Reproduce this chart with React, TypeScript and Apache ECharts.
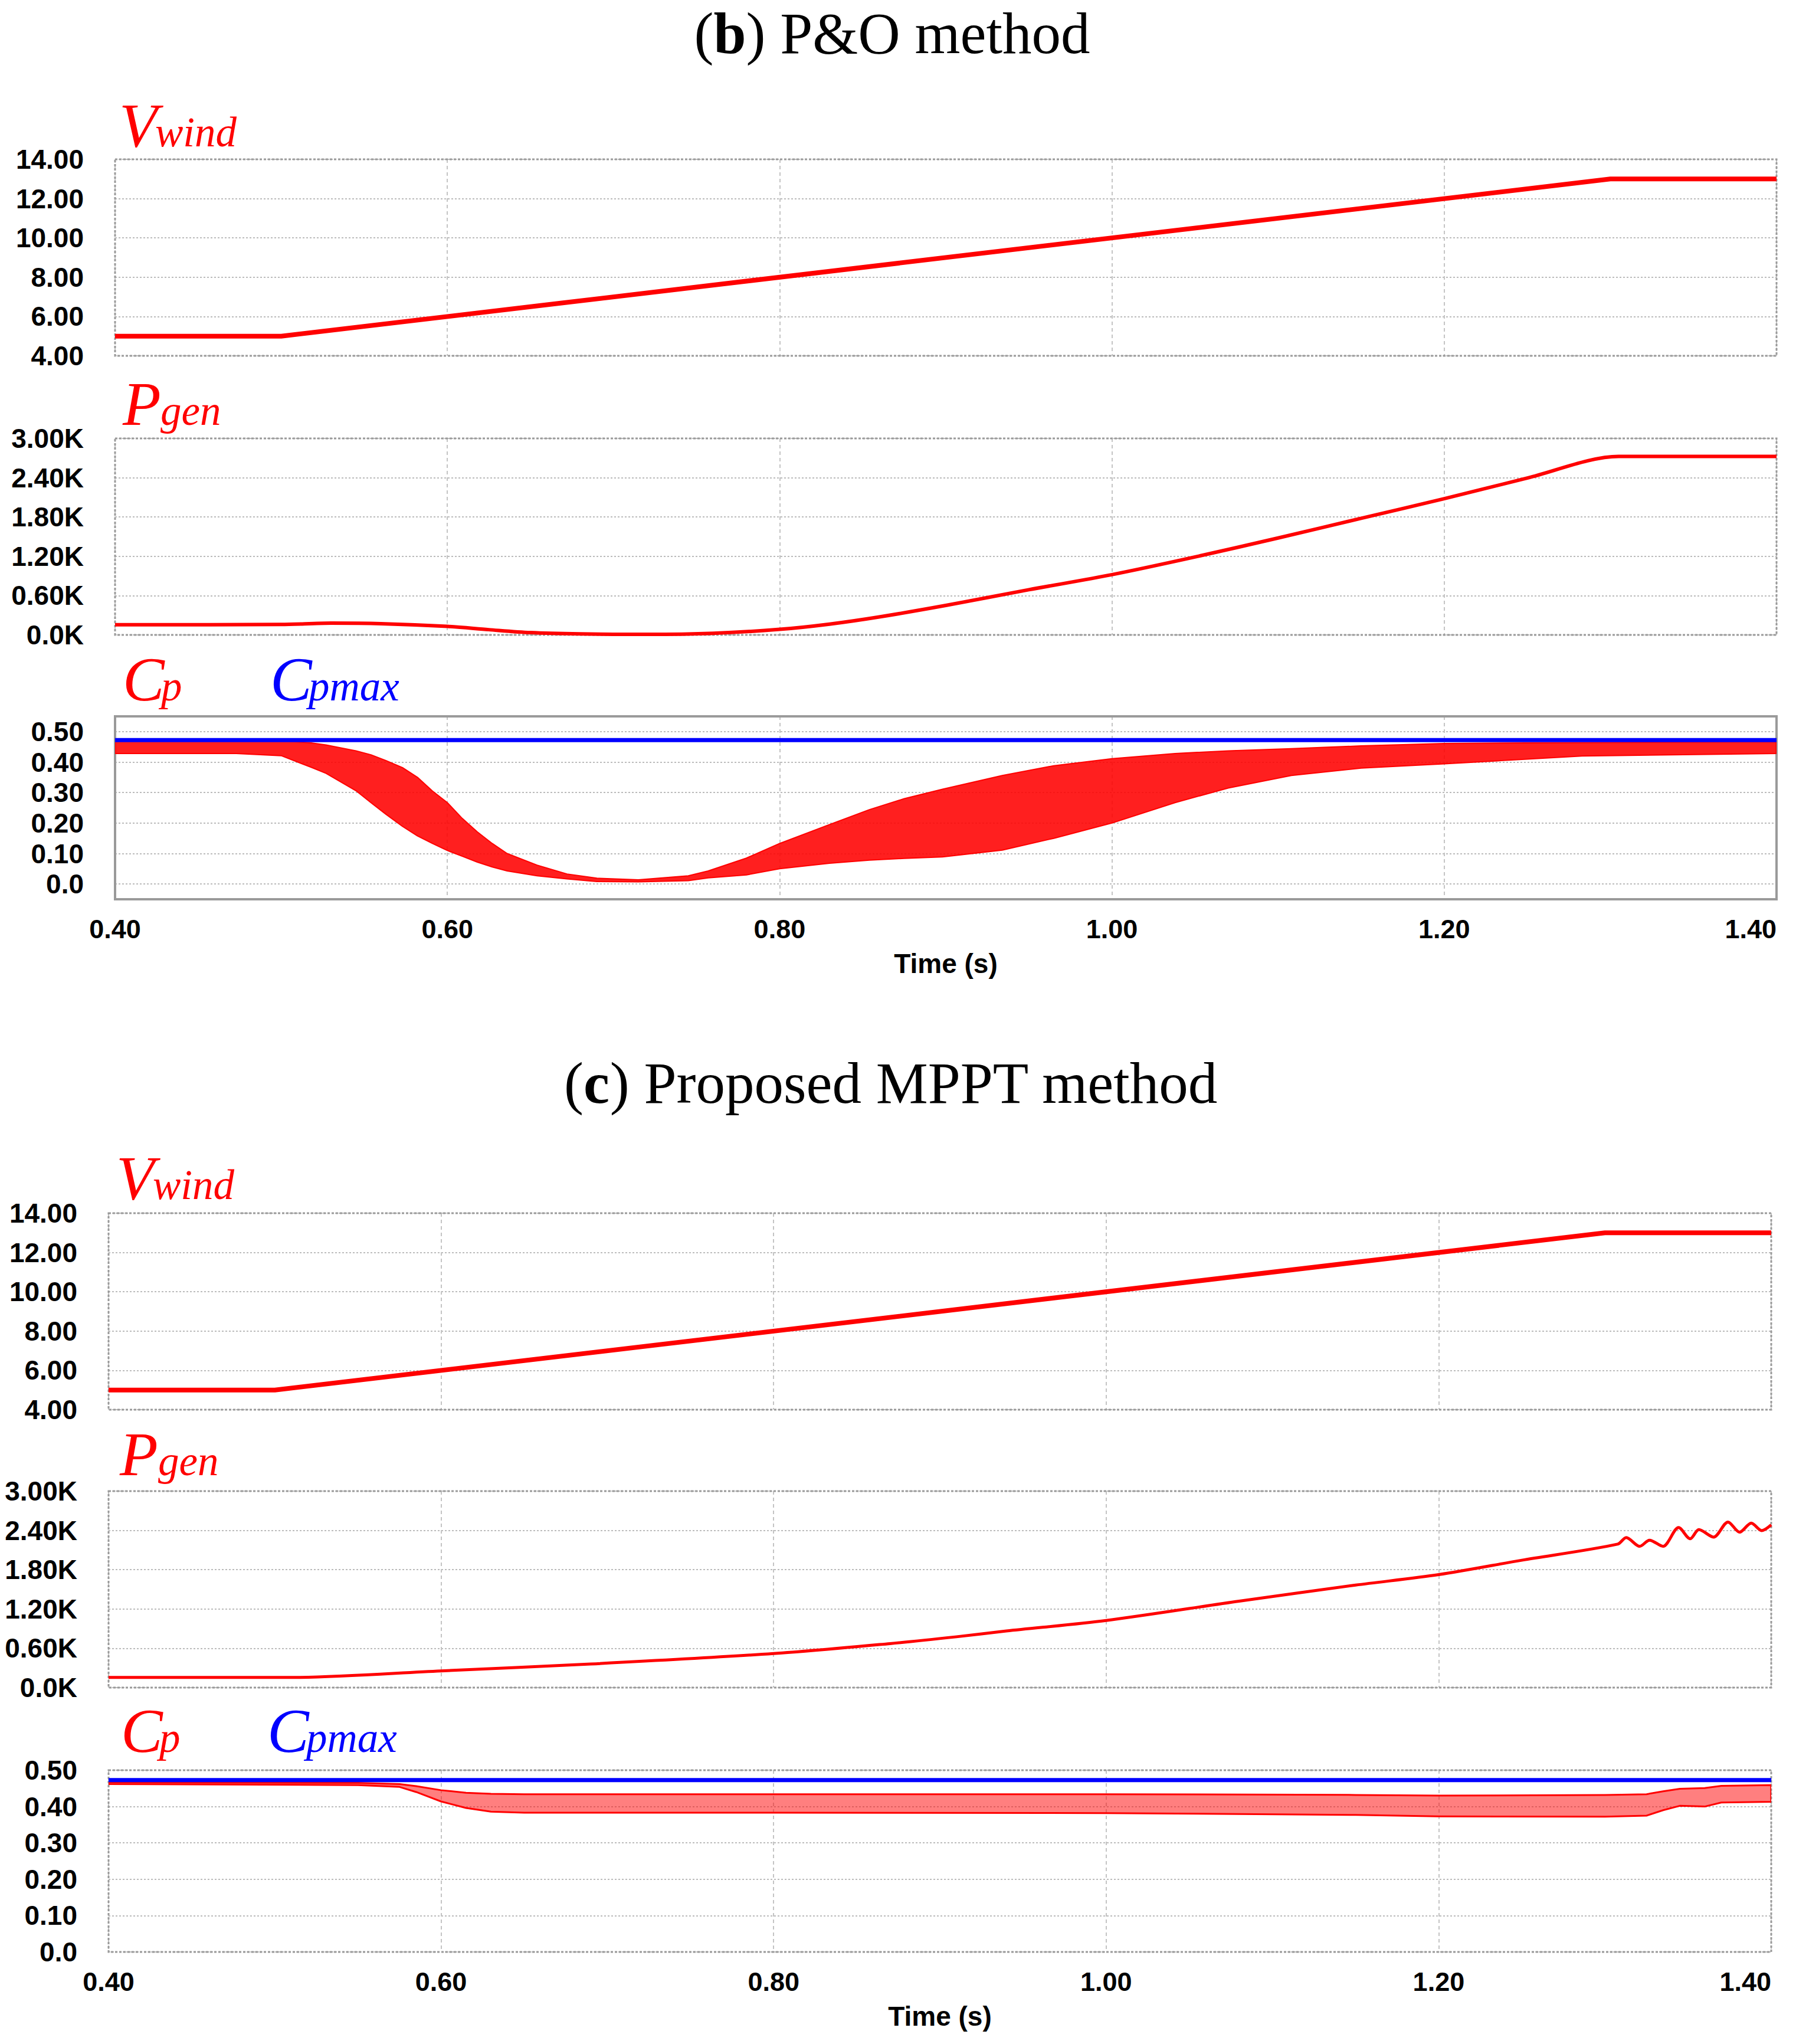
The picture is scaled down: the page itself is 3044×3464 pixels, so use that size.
import React, { useEffect, useRef } from "react";
import * as echarts from "echarts";

// ---------------- data ----------------
const T_VWIND = [0.4, 0.5, 1.3, 1.4];
const VWIND_B = [5, 5, 13, 13];
const VWIND_C = [5, 5, 13, 13];

const T_PGEN_B = [0.4, 0.5, 0.53, 0.56, 0.6, 0.625, 0.65, 0.68, 0.72, 0.76, 0.8, 0.83, 0.86, 0.9, 0.95, 1.0, 1.05, 1.1, 1.15, 1.2, 1.25, 1.305, 1.4];
const PGEN_B = [155, 160, 180, 172, 130, 80, 35, 15, 8, 25, 85, 165, 275, 450, 690, 920, 1190, 1480, 1780, 2080, 2395, 2725, 2725];

const T_PGEN_C = [0.4, 0.51, 0.6, 0.69, 0.8, 0.87, 0.91, 0.94, 1.0, 1.08, 1.15, 1.2, 1.25, 1.3076, 1.3128, 1.3209, 1.3268, 1.3349, 1.3443, 1.3513, 1.3565, 1.3653, 1.374, 1.381, 1.388, 1.3943, 1.4];
const PGEN_C = [155, 155, 255, 360, 520, 672, 776, 864, 1025, 1320, 1565, 1725, 1945, 2190, 2291, 2157, 2250, 2157, 2443, 2272, 2412, 2298, 2528, 2373, 2512, 2397, 2485];

// Cp of the P&O method: envelope of the fast oscillation (upper / lower)
const T_CP_B = [0.4, 0.473, 0.5, 0.518, 0.527, 0.545, 0.554, 0.563, 0.573, 0.582, 0.591, 0.6, 0.609, 0.618, 0.627, 0.636, 0.654, 0.672, 0.69, 0.715, 0.745, 0.757, 0.78, 0.8, 0.83, 0.854, 0.875, 0.898, 0.934, 0.965, 1.0, 1.038, 1.07, 1.108, 1.15, 1.2, 1.283, 1.4];
const CP_B_UP = [0.47, 0.47, 0.47, 0.463, 0.456, 0.437, 0.424, 0.405, 0.382, 0.35, 0.305, 0.267, 0.215, 0.171, 0.133, 0.1, 0.062, 0.033, 0.019, 0.014, 0.027, 0.043, 0.085, 0.133, 0.195, 0.244, 0.28, 0.311, 0.356, 0.388, 0.411, 0.428, 0.437, 0.444, 0.453, 0.461, 0.464, 0.467];
const CP_B_LO = [0.428, 0.428, 0.421, 0.383, 0.363, 0.306, 0.267, 0.229, 0.189, 0.158, 0.133, 0.11, 0.091, 0.072, 0.056, 0.043, 0.027, 0.017, 0.008, 0.007, 0.011, 0.02, 0.03, 0.05, 0.068, 0.078, 0.084, 0.089, 0.111, 0.15, 0.2, 0.267, 0.315, 0.356, 0.38, 0.394, 0.42, 0.428];

// Cp of the proposed method: envelope of the oscillation (upper / lower)
const T_CP_C = [0.4, 0.55, 0.575, 0.585, 0.6, 0.615, 0.63, 0.65, 0.8, 1.0, 1.15, 1.2, 1.3, 1.325, 1.335, 1.345, 1.36, 1.37, 1.4];
const CP_C_UP = [0.467, 0.465, 0.462, 0.456, 0.445, 0.438, 0.435, 0.434, 0.434, 0.434, 0.432, 0.43, 0.432, 0.434, 0.442, 0.449, 0.451, 0.457, 0.459];
const CP_C_LO = [0.462, 0.459, 0.454, 0.44, 0.414, 0.396, 0.386, 0.383, 0.383, 0.382, 0.377, 0.373, 0.372, 0.375, 0.39, 0.402, 0.4, 0.411, 0.413];

const T_CPMAX = [0.4, 1.4];
const CPMAX_B = [0.472, 0.472];
const CPMAX_C = [0.473, 0.473];

const X_TICKS = { min: 0.4, max: 1.4, interval: 0.2 };
const V_TICKS = { min: 4, max: 14, interval: 2 };
const P_TICKS = { min: 0, max: 3000, interval: 600 };
const CP_TICKS = { min: 0, max: 0.5, interval: 0.1 };
const CP_B_BOX = { min: -0.05, max: 0.55 };

// ---------------- layout / style ----------------
const W = 3044;
const H = 3464;
const SANS = "'Liberation Sans', Arial, Helvetica, sans-serif";
const SERIF = "'Liberation Serif', 'Times New Roman', Times, serif";
const RED = "#ff0000";
const BLUE = "#0000ff";

const B_LEFT = 195, B_RIGHT = 3011;
const C_LEFT = 184, C_RIGHT = 3002;
const PANEL_H = 333;
const B_V_TOP = 270, B_P_TOP = 743, B_C_TOP = 1214, B_C_H = 310;
const C_V_TOP = 2056, C_P_TOP = 2527, C_C_TOP = 3000, C_C_H = 308;

const zip = (a: number[], b: number[]) => a.map((v, i) => [v, b[i]]);

function buildOption() {
  const boxSpan = CP_B_BOX.max - CP_B_BOX.min;
  const innerTop = B_C_TOP + (B_C_H * (CP_B_BOX.max - CP_TICKS.max)) / boxSpan;
  const innerH = (B_C_H * (CP_TICKS.max - CP_TICKS.min)) / boxSpan;

  const grid = (left: number, right: number, top: number, height: number) => ({
    left, top, width: right - left, height, containLabel: false, outerBoundsMode: "none", show: false,
  });
  const grids = [
    grid(B_LEFT, B_RIGHT, B_V_TOP, PANEL_H),
    grid(B_LEFT, B_RIGHT, B_P_TOP, PANEL_H),
    grid(B_LEFT, B_RIGHT, B_C_TOP, B_C_H),
    grid(B_LEFT, B_RIGHT, innerTop, innerH),
    grid(C_LEFT, C_RIGHT, C_V_TOP, PANEL_H),
    grid(C_LEFT, C_RIGHT, C_P_TOP, PANEL_H),
    grid(C_LEFT, C_RIGHT, C_C_TOP, C_C_H),
  ];

  const xAxis = (gi: number, labels: boolean, split: boolean, show = true) => ({
    type: "value", gridIndex: gi, show, ...X_TICKS,
    axisLine: { show: false }, axisTick: { show: false },
    splitLine: { show: split, lineStyle: { color: "#c4c4c4", width: 2, type: [6, 5] } },
    axisLabel: labels
      ? {
          show: true, margin: 28, fontSize: 45, fontWeight: "bold", fontFamily: SANS, color: "#000",
          formatter: (v: number) => v.toFixed(2), alignMinLabel: "center", alignMaxLabel: "right",
        }
      : { show: false },
    name: labels ? "Time (s)" : "",
    nameLocation: "middle",
    nameGap: 86,
    nameTextStyle: { fontSize: 46, fontWeight: "bold", fontFamily: SANS, color: "#000" },
  });

  const yAxis = (gi: number, ticks: any, fmt: (v: number) => string, show = true) => ({
    type: "value", gridIndex: gi, show, ...ticks,
    axisLine: { show: false }, axisTick: { show: false },
    splitLine: { show: true, lineStyle: { color: "#bcbcbc", width: 2, type: [3, 3] } },
    axisLabel: { margin: 53, fontSize: 46, fontWeight: "bold", fontFamily: SANS, color: "#000", formatter: fmt },
  });

  const fmtV = (v: number) => v.toFixed(2);
  const fmtP = (v: number) => (v === 0 ? "0.0K" : (v / 1000).toFixed(2) + "K");
  const fmtC = (v: number) => (v === 0 ? "0.0" : v.toFixed(2));

  const line = (xi: number, data: number[][], color: string, width: number, smooth: number | boolean = false) => ({
    type: "line", xAxisIndex: xi, yAxisIndex: xi, data, showSymbol: false, symbol: "none",
    smooth,
    lineStyle: { color, width, join: "round" }, itemStyle: { color }, silent: true, z: 3,
  });

  const band = (xi: number, ts: number[], lo: number[], hi: number[], fill: string, stroke: number) => ({
    type: "custom", xAxisIndex: xi, yAxisIndex: xi, silent: true, z: 3, clip: true,
    data: ts.map((t, i) => [t, lo[i], hi[i]]),
    encode: { x: 0, y: [1, 2] },
    renderItem: (params: any, api: any) => {
      if (params.dataIndex !== 0) return null;
      const pts: number[][] = [];
      for (let i = 0; i < ts.length; i++) pts.push(api.coord([ts[i], hi[i]]));
      for (let i = ts.length - 1; i >= 0; i--) pts.push(api.coord([ts[i], lo[i]]));
      return {
        type: "polygon",
        shape: { points: pts },
        style: { fill, stroke: RED, lineWidth: stroke, lineJoin: "round" },
      };
    },
  });

  const frame = (left: number, right: number, top: number, h: number, solid = false) => ({
    type: "rect", silent: true, z: 1,
    shape: { x: left, y: top, width: right - left, height: h },
    style: solid
      ? { fill: "none", stroke: "#9a9a9a", lineWidth: 4 }
      : { fill: "none", stroke: "#9a9a9a", lineWidth: 3, lineDash: [4, 3] },
  });

  const txt = (x: number, baseline: number, text: string, size: number, color: string, italic = true) => ({
    type: "text", silent: true, z: 10, x, y: baseline - 0.3375 * size,
    style: {
      text, fill: color, fontSize: size, fontFamily: SERIF, fontStyle: italic ? "italic" : "normal",
      align: "left", verticalAlign: "middle", textAlign: "left", textVerticalAlign: "middle",
    },
  });

  const title = (cx: number, cy: number, letter: string, rest: string) => ({
    type: "text", silent: true, z: 10, x: cx, y: cy,
    style: {
      text: "(" + "{b|" + letter + "})" + rest,
      fill: "#000", fontSize: 99, fontFamily: SERIF,
      align: "center", verticalAlign: "middle", textAlign: "center", textVerticalAlign: "middle",
      rich: { b: { fontSize: 99, fontFamily: SERIF, fontWeight: "bold", fill: "#000" } },
    },
  });

  const MAIN = 106, SUB = 71;

  return {
    animation: false,
    backgroundColor: "#ffffff",
    grid: grids,
    xAxis: [
      xAxis(0, false, true),
      xAxis(1, false, true),
      xAxis(2, true, true),
      xAxis(3, false, false, false),
      xAxis(4, false, true),
      xAxis(5, false, true),
      xAxis(6, true, true),
    ],
    yAxis: [
      yAxis(0, V_TICKS, fmtV),
      yAxis(1, P_TICKS, fmtP),
      yAxis(2, CP_B_BOX, fmtC, false),
      yAxis(3, CP_TICKS, fmtC),
      yAxis(4, V_TICKS, fmtV),
      yAxis(5, P_TICKS, fmtP),
      yAxis(6, CP_TICKS, fmtC),
    ],
    series: [
      line(0, zip(T_VWIND, VWIND_B), RED, 8),
      line(1, zip(T_PGEN_B, PGEN_B), RED, 6, 0.3),
      band(2, T_CP_B, CP_B_LO, CP_B_UP, "rgba(255,0,0,0.88)", 2),
      line(2, zip(T_CPMAX, CPMAX_B), BLUE, 7),
      line(4, zip(T_VWIND, VWIND_C), RED, 8),
      line(5, zip(T_PGEN_C, PGEN_C), RED, 5, 0.3),
      band(6, T_CP_C, CP_C_LO, CP_C_UP, "rgba(255,0,0,0.5)", 3),
      line(6, zip(T_CPMAX, CPMAX_C), BLUE, 7),
    ],
    graphic: [
      frame(B_LEFT, B_RIGHT, B_V_TOP, PANEL_H),
      frame(B_LEFT, B_RIGHT, B_P_TOP, PANEL_H),
      frame(B_LEFT, B_RIGHT, B_C_TOP, B_C_H, true),
      frame(C_LEFT, C_RIGHT, C_V_TOP, PANEL_H),
      frame(C_LEFT, C_RIGHT, C_P_TOP, PANEL_H),
      frame(C_LEFT, C_RIGHT, C_C_TOP, C_C_H),
      title(1512, 56, "b", " P&O method"),
      title(1510, 1835, "c", " Proposed MPPT method"),
      // (b) labels
      txt(202, 248, "V", MAIN, RED),
      txt(263, 248, "wind", SUB, RED),
      txt(208, 720, "P", MAIN, RED),
      txt(272, 720, "gen", SUB, RED),
      txt(208, 1187, "C", MAIN, RED),
      txt(273, 1187, "p", SUB, RED),
      txt(458, 1187, "C", MAIN, BLUE),
      txt(523, 1187, "pmax", SUB, BLUE),
      // (c) labels
      txt(197, 2032, "V", MAIN, RED),
      txt(259, 2032, "wind", SUB, RED),
      txt(203, 2500, "P", MAIN, RED),
      txt(268, 2500, "gen", SUB, RED),
      txt(205, 2969, "C", MAIN, RED),
      txt(270, 2969, "p", SUB, RED),
      txt(453, 2969, "C", MAIN, BLUE),
      txt(519, 2969, "pmax", SUB, BLUE),
    ],
  };
}

export default function App() {
  const ref = useRef<HTMLDivElement | null>(null);
  useEffect(() => {
    if (!ref.current) return;
    const chart = echarts.init(ref.current, undefined, { renderer: "svg", width: W, height: H });
    chart.setOption(buildOption() as any);
    return () => chart.dispose();
  }, []);
  return (
    <div
      ref={ref}
      style={{ position: "absolute", left: 0, top: 0, width: W, height: H, background: "#fff" }}
    />
  );
}
